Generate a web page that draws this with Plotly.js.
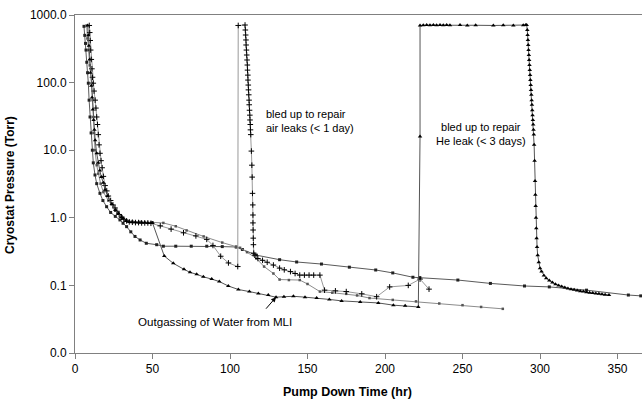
<!DOCTYPE html>
<html>
<head>
<meta charset="utf-8">
<script src="https://cdn.plot.ly/plotly-3.0.1.min.js"></script>
<style>html,body{margin:0;padding:0;background:#fff;}#chart{width:642px;height:401px;}</style>
</head>
<body>
<div id="chart"></div>
<script>
// ---- data (x = pump down time in hr, y = cryostat pressure in Torr) ----
// Run with He leak (triangles)
const s1_x = [8.2,8.6,9,9.5,10,10.5,11,11.5,12,12.5,13,14,15,16,17,18.3,19.4,21,23.7,26,28,30,31.2,33,35,37,39,41,43,45,47,49,50,
  57.6,63.4,70.3,74.2,78.5,82.8,88.2,93.1,98.9,105.4,112.5,118.3,124.7,129.7,134.8,140.9,148.4,155.9,164.1,172,184,195.7,205.4,213,221.5,
  222.6,222.6,224.7,226.9,229,231.2,233.3,235.5,237.6,239.8,241.9,248.4,253.1,258.5,269.9,276.3,282.8,289.2,290.8,
  291.4,291.8,292.0,292.2,292.4,292.6,292.8,293.0,293.2,293.4,293.6,293.8,294.0,294.2,294.4,294.6,294.8,295.0,295.2,295.4,295.6,295.8,296.0,296.2,296.5,296.8,297,297.2,297.4,297.6,297.8,298.1,298.5,299.2,300,301,302.5,304,306,308,310,312,314,316,318,320,322,324,326,328,330,332,334,336,338,340,342,344.5];
const s1_y = [700,500,350,220,140,90,60,40,28,20,14,9,6.5,5,4,3.3,2.6,2.1,1.6,1.3,1.16,1.02,0.98,0.9,0.87,0.86,0.86,0.85,0.85,0.85,0.84,0.84,0.84,
  0.272,0.212,0.173,0.156,0.146,0.134,0.124,0.114,0.098,0.087,0.081,0.076,0.072,0.067,0.068,0.069,0.067,0.065,0.062,0.059,0.057,0.055,0.051,0.05,0.048,
  16,700,705,710,705,710,705,710,705,710,705,710,700,705,700,705,700,705,710,
  711,600,506,427,360,303,256,216,182,153,129,109,92,78,66,55,47,39,33,28,24,20,17,12,7,3.5,2.2,1.5,1.0,0.7,0.5,0.37,0.28,0.22,0.18,0.16,0.14,0.128,0.118,0.11,0.104,0.1,0.096,0.093,0.09,0.088,0.086,0.084,0.082,0.081,0.079,0.078,0.077,0.076,0.075,0.074,0.073,0.072];

// Run with air leaks (plus markers)
const s2_x = [9.2,9.5,9.8,10.1,10.5,10.9,11.3,11.8,12.3,13,13.5,14,14.5,15,15.5,16.1,16.8,17.5,18.3,19.4,20.5,21.5,23,24.5,25.8,27,28.5,30.1,31.5,33.3,35,37,39,41,43,45,47,49,55,62,70,78,85,89,94,99,105,
  105.3,109.7,109.9,110.1,110.3,110.4,110.6,110.8,111.0,111.2,111.3,111.5,111.6,111.8,111.9,112.1,112.3,112.4,112.6,112.8,112.9,113.1,113.2,113.4,113.8,114.1,114.3,114.5,114.7,114.8,114.8,114.9,115,115.1,115.3,
  116,118,121,124,128,132,135,139,142,145,148,151,154,158,161,168,175,185,194.6,203,215,222.6,228.4];
const s2_y = [700,550,420,303,220,160,120,98,75,55,42,31,24,17,12,9,7,5.5,4.1,3,2.5,2.1,1.8,1.55,1.4,1.25,1.12,1.02,0.95,0.9,0.87,0.86,0.85,0.85,0.84,0.84,0.84,0.83,0.76,0.68,0.6,0.54,0.48,0.39,0.27,0.215,0.19,
  700,711,600,506,427,360,303,256,216,182,153,129,109,92,78,66,55,47,39,33,28,24,20,17,9.7,6.0,4.0,2.3,1.55,1.1,0.84,0.66,0.5,0.4,0.3,
  0.28,0.25,0.235,0.22,0.2,0.18,0.17,0.16,0.15,0.142,0.142,0.142,0.142,0.142,0.085,0.083,0.081,0.075,0.068,0.095,0.1,0.124,0.088];

// Third run (grey line)
const s3_x = [7.5,8,8.6,9.5,10.8,11.3,11.8,12.3,12.9,14,15,16.5,18.3,21.5,25.8,30.1,33.3,37,42,50,57,65,72,83,95,104,106.5,111,117,122,128,132,138,145,150,158,166,175,182,190,205,220,235,250,262,276];
const s3_y = [700,450,303,180,98,55,31,18,10,6,4.5,3.2,2.4,1.8,1.35,1.05,0.92,0.88,0.87,0.86,0.84,0.75,0.65,0.53,0.43,0.37,0.36,0.31,0.25,0.19,0.15,0.122,0.12,0.12,0.105,0.081,0.078,0.075,0.071,0.065,0.061,0.058,0.054,0.051,0.048,0.045];

// Fourth run (long line to the right edge)
const s4_x = [5.8,6.3,6.8,7.1,7.6,8.1,8.6,9.1,9.7,10.4,11.2,11.8,12.9,14,16.1,18,20.4,23,26,29,31,33.3,36,38.7,42,46,52.7,57,65,75,85,95,104,108,117,132,143,159,177,194,205,218,222.5,247,268,290,306,330,357,365];
const s4_y = [680,500,380,303,200,140,98,55,31,18,10,6.5,4.3,3.2,2.3,1.8,1.46,1.2,1.05,0.93,0.83,0.74,0.62,0.53,0.47,0.42,0.4,0.38,0.38,0.38,0.38,0.375,0.37,0.34,0.28,0.24,0.222,0.207,0.186,0.169,0.153,0.132,0.13,0.12,0.107,0.098,0.095,0.085,0.072,0.07];

// tick labels
const xTickVals = [0,50,100,150,200,250,300,350];
const yTickVals = [0.01,0.1,1,10,100,1000];
const yTickText = ['0.0','0.1','1.0','10.0','100.0','1000.0'];

// annotation texts
const noteAir = 'bled up to repair<br>air leaks (&lt; 1 day)';
const noteHe = 'bled up to repair<br>He leak (&lt; 3 days)';
const noteMLI = 'Outgassing of Water from MLI';
const arrowTarget = [129.7, 0.067];
const xTitle = 'Pump Down Time (hr)';
const yTitle = 'Cryostat Pressure (Torr)';

// ---- layout helpers ----
const L = 75, R = 0, T = 15, B = 48, W = 642, H = 401;
const px = v => (v - L) / (W - L - R);
const py = v => (H - B - v) / (H - B - T);
const FONT = 'Liberation Sans, Arial, Helvetica, sans-serif';

const traces = [
  {x: s4_x, y: s4_y, mode: 'lines+markers', line: {color: '#5a5a5a', width: 1},
   marker: {symbol: 'square', size: 3, color: '#222'}},
  {x: s3_x, y: s3_y, mode: 'lines+markers', line: {color: '#8c8c8c', width: 1},
   marker: {symbol: 'square', size: 2.5, color: '#555'}},
  {x: s2_x, y: s2_y, mode: 'lines+markers', line: {color: '#9a9a9a', width: 1},
   marker: {symbol: 'cross-thin', size: 4, line: {width: 1, color: '#000'}}},
  {x: s1_x, y: s1_y, mode: 'lines+markers', line: {color: '#555', width: 1},
   marker: {symbol: 'triangle-up', size: 4, color: '#000'}}
];

const layout = {
  width: W, height: H, autosize: false,
  margin: {l: L, r: R, t: T, b: B, pad: 0},
  paper_bgcolor: '#fff', plot_bgcolor: '#fff',
  showlegend: false,
  font: {family: FONT, size: 12, color: '#000'},
  xaxis: {
    range: [0, 365.8], tickmode: 'array', tickvals: xTickVals,
    ticks: 'outside', ticklen: 5, tickcolor: '#808080', tickwidth: 1,
    showline: true, linecolor: '#808080', linewidth: 1, mirror: true,
    showgrid: false, zeroline: false,
    tickfont: {family: FONT, size: 12, color: '#000'}
  },
  yaxis: {
    type: 'log', range: [-2, 3], tickmode: 'array', tickvals: yTickVals, ticktext: yTickText,
    ticks: 'outside', ticklen: 5, tickcolor: '#808080', tickwidth: 1,
    showline: true, linecolor: '#808080', linewidth: 1,
    showgrid: false, zeroline: false,
    tickfont: {family: FONT, size: 12, color: '#000'}
  },
  annotations: [
    {xref: 'paper', yref: 'paper', x: px(264), y: py(120.5), xanchor: 'left', yanchor: 'middle', align: 'left',
     text: noteAir, showarrow: false, font: {family: FONT, size: 11, color: '#000'}},
    {xref: 'paper', yref: 'paper', x: px(481), y: py(134), xanchor: 'center', yanchor: 'middle', align: 'center',
     text: noteHe, showarrow: false, font: {family: FONT, size: 11, color: '#000'}},
    {xref: 'paper', yref: 'paper', x: px(214.5), y: py(321.7), xanchor: 'center', yanchor: 'middle',
     text: noteMLI, showarrow: false, font: {family: FONT, size: 11.6, color: '#000'}},
    {xref: 'x', yref: 'y', x: arrowTarget[0], y: Math.log10(arrowTarget[1]), text: ' ',
     showarrow: true, ax: -13, ay: 15, arrowhead: 2, arrowsize: 1, arrowwidth: 1, arrowcolor: '#000', standoff: 0},
    {xref: 'paper', yref: 'paper', x: px(347), y: py(392), xanchor: 'center', yanchor: 'middle',
     text: '<b>' + xTitle + '</b>', showarrow: false, font: {family: FONT, size: 12.5, color: '#000'}},
    {xref: 'paper', yref: 'paper', x: px(10), y: py(185), xanchor: 'center', yanchor: 'middle', textangle: -90,
     text: '<b>' + yTitle + '</b>', showarrow: false, font: {family: FONT, size: 12, color: '#000'}}
  ]
};

Plotly.newPlot('chart', traces, layout, {displayModeBar: false, staticPlot: true});
</script>
</body>
</html>
